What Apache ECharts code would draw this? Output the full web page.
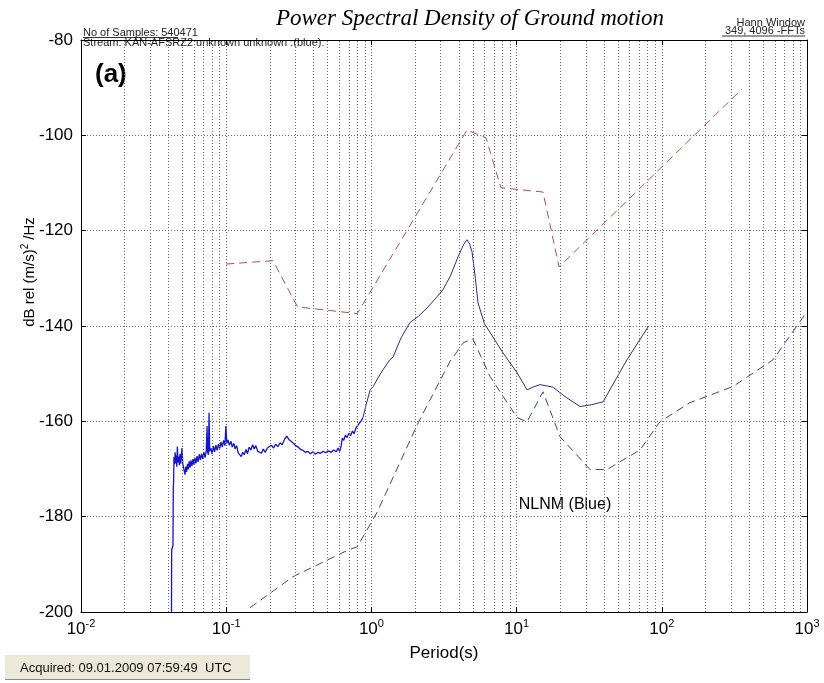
<!DOCTYPE html>
<html><head><meta charset="utf-8">
<script src="https://cdn.jsdelivr.net/npm/echarts@6/dist/echarts.min.js"></script>
<style>html,body{margin:0;padding:0;background:#fff}#c{width:824px;height:683px}</style>
</head><body><div id="c"></div>
<script>
// ---- data ----
const noisyPeriods = [0.0420,0.0421,0.0430,0.0432,0.0434,0.0437,0.0441,0.0445,0.0449,0.0453,0.0457,0.0461,0.0466,0.0471,0.0476,0.0481,0.0486,0.0491,0.0496,0.0502,0.0508,0.0514,0.0520,0.0527,0.0534,0.0541,0.0548,0.0556,0.0564,0.0572,0.0581,0.0590,0.0599,0.0609,0.0619,0.0630,0.0641,0.0652,0.0664,0.0676,0.0689,0.0702,0.0715,0.0729,0.0738,0.0745,0.0755,0.0762,0.0770,0.0785,0.0800,0.0816,0.0832,0.0849,0.0866,0.0884,0.0902,0.0921,0.0940,0.0960,0.0980,0.0995,0.101,0.103,0.105,0.108,0.110,0.113,0.115,0.118,0.121,0.124,0.127,0.130,0.133,0.137,0.140,0.144,0.148,0.152,0.156,0.160,0.165,0.170,0.175,0.180,0.186,0.192,0.198,0.205,0.212,0.219,0.227,0.235,0.243,0.252,0.261,0.270,0.280,0.290,0.301,0.313,0.325,0.338,0.351,0.365,0.380,0.395,0.411,0.428,0.446,0.465,0.485,0.505,0.527,0.550,0.573,0.590,0.605,0.620,0.630,0.645,0.662,0.680,0.700,0.720,0.740,0.760,0.785,0.810,0.830,0.855,0.875];
const noisyDb = [-200,-187,-186,-174,-173,-167.5,-169.0,-166.5,-168.8,-167.2,-169.5,-165.3,-168.6,-167.4,-169.2,-166.8,-168.9,-167.5,-165.6,-168.8,-169.6,-170.4,-171.2,-169.5,-170.6,-168.9,-170.1,-168.4,-169.7,-168.2,-169.4,-167.9,-169.1,-167.6,-168.8,-167.3,-168.5,-166.9,-168.1,-166.8,-167.9,-166.4,-167.6,-166.2,-161.0,-166.5,-167.0,-158.2,-166.3,-165.6,-166.8,-165.2,-166.4,-165.0,-166.1,-164.8,-165.7,-164.3,-165.4,-164.0,-165.1,-161.0,-164.6,-163.9,-165.0,-164.2,-165.4,-164.6,-165.8,-165.1,-166.6,-166.9,-167.4,-166.5,-167.0,-165.9,-166.8,-165.4,-166.0,-164.9,-165.8,-165.1,-166.3,-165.9,-166.7,-165.8,-166.5,-165.6,-165.9,-165.0,-165.6,-164.8,-165.3,-164.5,-164.9,-163.8,-163.1,-163.8,-164.2,-164.6,-165.1,-165.4,-165.9,-166.1,-166.5,-166.3,-166.8,-166.4,-166.9,-166.5,-166.7,-166.3,-166.6,-166.2,-166.5,-166.0,-166.4,-165.6,-166.3,-165.1,-163.5,-164.0,-162.9,-163.4,-162.5,-163.0,-162.0,-162.6,-161.3,-161.7,-160.3,-159.8,-159.2];
const smoothPeriods = [0.875,0.92,0.98,1.03,1.09,1.2,1.34,1.41,1.6,1.84,2.1,2.42,2.75,3.11,3.5,3.95,4.3,4.55,4.75,4.93,5.2,5.42,6.0,6.87,8.0,10.07,11.8,13.0,14.5,17.7,22,27.4,33,39.4,57.5,80.4];
const smoothDb = [-159.2,-156.5,-153.4,-152.7,-151.3,-149.2,-147.1,-146.5,-142.5,-139.3,-138.0,-136.2,-134.3,-132.4,-129.5,-125.5,-123.0,-121.9,-122.8,-124.4,-130.0,-135.1,-139.5,-142.3,-145.5,-149.8,-153.4,-152.8,-152.3,-152.8,-155.0,-156.9,-156.5,-155.9,-147.1,-140.2];
const nhnmPeriods = [0.1,0.21,0.31,0.80,4.55,6.15,7.8,15.2,19.6,356];
const nhnmDb = [-127.0,-126.3,-136.0,-137.4,-98.9,-100.5,-111.0,-111.9,-127.6,-90.3];
const nlnmPeriods = [0.146,0.288,0.68,0.80,1.09,2.1,3.47,4.3,5.0,6.56,10.07,11.8,15.2,19.9,32,42,70.8,97,156,309,583,1000];
const nlnmDb = [-199.1,-192.6,-187.1,-186.3,-179.2,-160.3,-147.5,-143.5,-142.7,-150.6,-159.2,-160.1,-153.8,-163.2,-170.1,-170.1,-166.0,-160.1,-156.1,-152.7,-147.1,-137.0];
const yTickLabels = [-200,-180,-160,-140,-120,-100,-80];
const decades = [0.01,0.1,1,10,100];
const minorMultipliers = [2,3,4,5,6,7,8,9];

const zip = (xs, ys) => xs.map((x, i) => [x, ys[i]]);
const minorLines = [];
decades.forEach(d => minorMultipliers.forEach(m => minorLines.push({xAxis: +(d * m).toPrecision(3)})));

const FONT = 'Liberation Sans';
const dotted = {type: [1, 2], color: '#6a6a6a', width: 1};

const chart = echarts.init(document.getElementById('c'), null, {renderer: 'canvas'});
chart.setOption({
  animation: false,
  backgroundColor: '#fff',
  grid: {left: 81, right: 17, top: 40, bottom: 71, containLabel: false},
  xAxis: [{
    type: 'log', logBase: 10, min: 0.01, max: 1000, position: 'bottom',
    axisLine: {show: true, onZero: false, lineStyle: {color: '#000', width: 1}},
    axisTick: {show: true, inside: true, length: 5, lineStyle: {color: '#000'}},
    splitLine: {show: true, lineStyle: dotted},
    axisLabel: {
      margin: 6, color: '#000',
      formatter: v => '{b|10}{s|' + Math.round(Math.log10(v)) + '}',
      rich: {b: {fontSize: 17, fontFamily: FONT, color: '#000', lineHeight: 22},
             s: {fontSize: 11, fontFamily: FONT, color: '#000', verticalAlign: 'top', lineHeight: 12}}
    },
    name: 'Period(s)', nameLocation: 'middle', nameGap: 33,
    nameTextStyle: {fontSize: 17, fontFamily: FONT, color: '#000'}
  }, {
    type: 'log', logBase: 10, min: 0.01, max: 1000, position: 'top',
    axisLine: {show: true, onZero: false, lineStyle: {color: '#000', width: 1}},
    axisTick: {show: true, inside: true, length: 5, lineStyle: {color: '#000'}},
    axisLabel: {show: false}, splitLine: {show: false}
  }],
  yAxis: [{
    type: 'value', min: yTickLabels[0], max: yTickLabels[yTickLabels.length - 1], interval: 20, position: 'left',
    axisLine: {show: true, onZero: false, lineStyle: {color: '#000', width: 1}},
    axisTick: {show: true, inside: true, length: 5, lineStyle: {color: '#000'}},
    splitLine: {show: true, lineStyle: dotted},
    axisLabel: {margin: 8, fontSize: 17, fontFamily: FONT, color: '#000'}
  }, {
    type: 'value', min: yTickLabels[0], max: yTickLabels[yTickLabels.length - 1], interval: 20, position: 'right',
    axisLine: {show: true, onZero: false, lineStyle: {color: '#000', width: 1}},
    axisTick: {show: true, inside: true, length: 5, lineStyle: {color: '#000'}},
    axisLabel: {show: false}, splitLine: {show: false}
  }],
  series: [{
    name: 'NHNM', type: 'line', data: zip(nhnmPeriods, nhnmDb), showSymbol: false, symbol: 'none',
    lineStyle: {color: '#B04E48', width: 1, type: [8, 5]},
    markLine: {silent: true, symbol: ['none', 'none'], label: {show: false}, lineStyle: dotted, data: minorLines, animation: false}
  }, {
    name: 'NLNM', type: 'line', data: zip(nlnmPeriods, nlnmDb), showSymbol: false, symbol: 'none',
    lineStyle: {color: '#3C4190', width: 1, type: [8, 5]}
  }, {
    name: 'data-noisy', type: 'line', data: zip(noisyPeriods, noisyDb), showSymbol: false, symbol: 'none',
    lineStyle: {color: '#1414C8', width: 1.3}
  }, {
    name: 'data', type: 'line', data: zip(smoothPeriods, smoothDb), showSymbol: false, symbol: 'none',
    lineStyle: {color: '#2A2E85', width: 1}
  }],
  graphic: [
    {type: 'text', x: 470, y: 19, style: {text: 'Power Spectral Density of Ground motion', fontSize: 23, fontFamily: 'Liberation Serif', fontStyle: 'italic', align: 'center', verticalAlign: 'middle', fill: '#000'}},
    {type: 'text', x: 83, y: 33, style: {text: 'No of Samples: 540471', fontSize: 11, fontFamily: FONT, align: 'left', verticalAlign: 'middle', fill: '#222'}},
    {type: 'line', shape: {x1: 83, y1: 37.5, x2: 178, y2: 37.5}, style: {stroke: '#333', lineWidth: 1}},
    {type: 'text', x: 83, y: 43, style: {text: 'Stream: KAN-AFSRZ2 unknown unknown :(blue):', fontSize: 11, fontFamily: FONT, align: 'left', verticalAlign: 'middle', fill: '#222'}},
    {type: 'text', x: 805, y: 23, style: {text: 'Hann Window', fontSize: 11, fontFamily: FONT, align: 'right', verticalAlign: 'middle', fill: '#222'}},
    {type: 'text', x: 805, y: 31, style: {text: '349, 4096 -FFTs', fontSize: 11, fontFamily: FONT, align: 'right', verticalAlign: 'middle', fill: '#222'}},
    {type: 'line', shape: {x1: 722, y1: 36, x2: 805, y2: 36}, style: {stroke: '#333', lineWidth: 1}},
    {type: 'text', x: 95, y: 75, style: {text: '(a)', fontSize: 26, fontWeight: 'bold', fontFamily: FONT, align: 'left', verticalAlign: 'middle', fill: '#000'}},
    {type: 'text', x: 565, y: 505, style: {text: 'NLNM (Blue)', fontSize: 16, fontFamily: FONT, align: 'center', verticalAlign: 'middle', fill: '#000'}},
    {type: 'text', x: 30, y: 272, rotation: Math.PI / 2, style: {
      text: '{a|dB rel (m/s)}{s|2}{a| /Hz}', align: 'center', verticalAlign: 'middle',
      rich: {a: {fontSize: 15, fontFamily: FONT, fill: '#000', lineHeight: 20}, s: {fontSize: 10, fontFamily: FONT, fill: '#000', verticalAlign: 'top', lineHeight: 10}}}},
    {type: 'rect', shape: {x: 5, y: 655, width: 245, height: 24}, style: {fill: '#ECE9D8'}},
    {type: 'line', shape: {x1: 5, y1: 679.5, x2: 250, y2: 679.5}, style: {stroke: '#888', lineWidth: 1}},
    {type: 'text', x: 20, y: 668, style: {text: 'Acquired: 09.01.2009 07:59:49  UTC', fontSize: 13, fontFamily: FONT, align: 'left', verticalAlign: 'middle', fill: '#111'}}
  ]
});
</script></body></html>
